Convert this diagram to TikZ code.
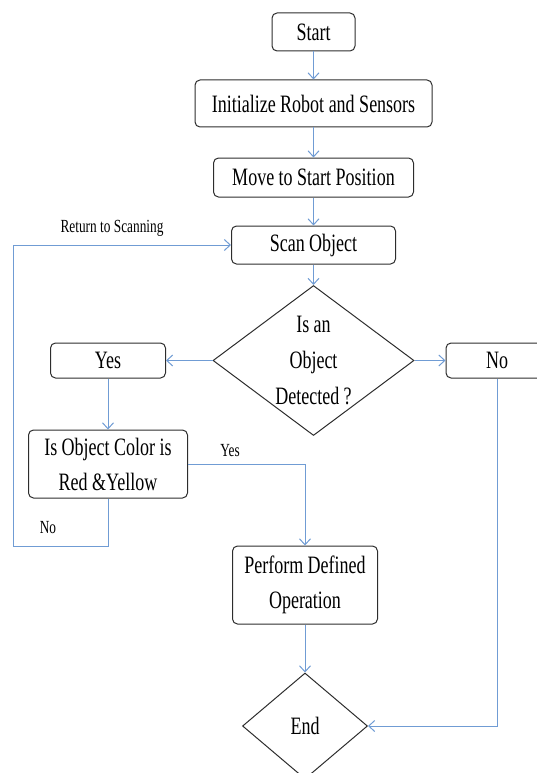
\documentclass[tikz,border=0pt]{standalone}
\usepackage{fontspec}
\setmainfont[FakeStretch=0.72]{Liberation Serif}
\usetikzlibrary{shapes.geometric,arrows.meta}
\definecolor{flowblue}{RGB}{112,156,212}
\definecolor{boxline}{RGB}{45,45,45}

\begin{document}
\begin{tikzpicture}[x=1pt,y=-1pt,
  box/.style={draw=boxline,line width=1pt,rounded corners=5pt,inner sep=0pt,
    align=center,font=\fontsize{25}{35}\selectfont},
  choice/.style={draw=boxline,line width=1pt,diamond,inner sep=0pt,
    align=center,font=\fontsize{25}{36}\selectfont},
  flow/.style={draw=flowblue,line width=1pt,-{Straight Barb[length=6pt,width=11pt]}},
  note/.style={font=\fontsize{18.5}{20}\selectfont}]
  \useasboundingbox (0,0) rectangle (536,773);

  % Main column
  \node[box,minimum width=83,minimum height=38] (start) at (313.5,32) {Start};
  \node[box,minimum width=237,minimum height=47] (init) at (313.5,103.5) {Initialize Robot and Sensors};
  \node[box,minimum width=200,minimum height=39] (move) at (313.5,177.5) {Move to Start Position};
  \node[box,minimum width=164,minimum height=38] (scan) at (313.5,245) {Scan Object};
  \node[choice,minimum width=201,minimum height=150,aspect=1.34] (detect) at (313.5,360.5)
    {Is an\\Object\\Detected ?};

  % Branches
  \node[box,minimum width=115,minimum height=35] (yes) at (108,360.5) {Yes};
  \node[box,minimum width=102,minimum height=35] (no) at (497,360.5) {No};
  \node[box,minimum width=159,minimum height=68] (color) at (108,464) {Is Object Color is\\Red \&Yellow};
  \node[box,minimum width=145,minimum height=78] (perform) at (305,585) {Perform Defined\\Operation};
  \node[choice,minimum width=125,minimum height=106,aspect=1.18] (end) at (305,726) {End};
  \coordinate (loop) at (13,546);

  % Labels
  \node[note] (retlabel) at (112,228) {Return to Scanning};
  \node[note] (yeslabel) at (230,451) {Yes};
  \node[note] (nolabel) at (48,528) {No};

  % Connectors
  \foreach \a/\b in {start/init,init/move,move/scan,scan/detect}
    \draw[flow] (\a) -- (\b);
  \draw[flow] (detect) -- (yes);
  \draw[flow] (detect) -- (no);
  \draw[flow] (yes) -- (color);
  \draw[flow] (color.east) -| (perform);
  \draw[flow] (perform) -- (end);
  \draw[flow] (no.south) |- (end.east);
  \draw[flow] (color.south) |- (loop) |- (scan.west);
\end{tikzpicture}
\end{document}
